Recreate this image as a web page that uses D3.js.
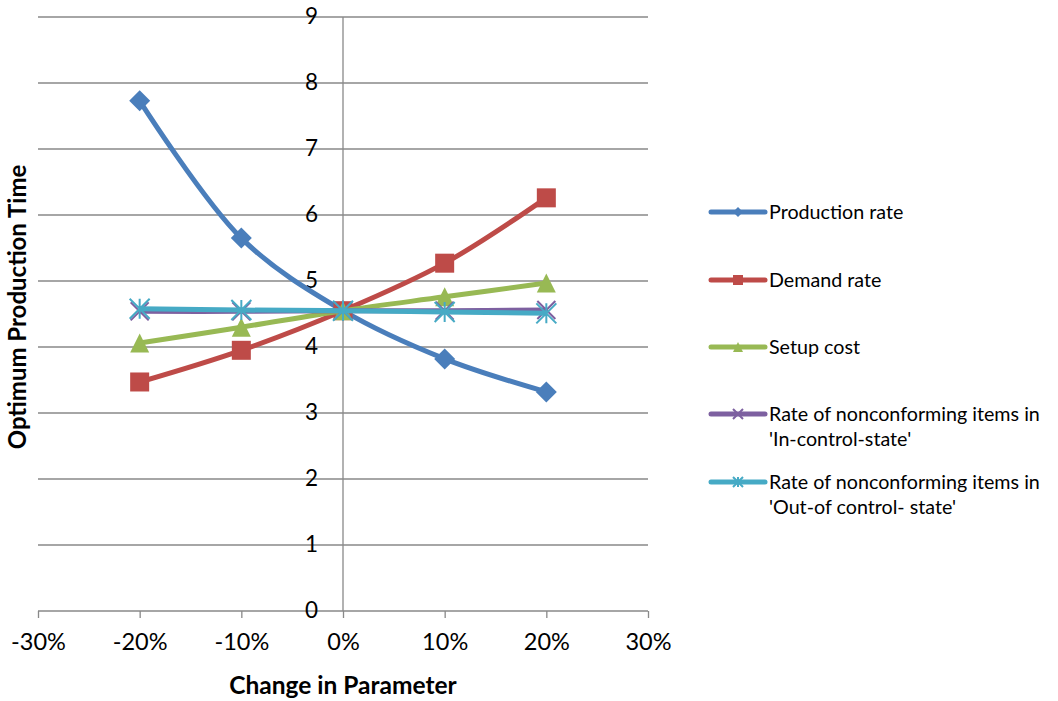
<!DOCTYPE html>
<html>
<head>
<meta charset="utf-8">
<script src="https://cdn.jsdelivr.net/npm/d3@7/dist/d3.min.js"></script>
<style>
  html, body { margin: 0; padding: 0; background: #fff; }
  svg { display: block; font-family: Lato, "Open Sans", "Liberation Sans", sans-serif; }
</style>
</head>
<body>
<svg id="chart" width="1058" height="701"></svg>
<script>
// Sensitivity of the optimum production time to a change in each parameter
const changes = [-0.2, -0.1, 0, 0.1, 0.2];
const xTicks = [-0.3, -0.2, -0.1, 0, 0.1, 0.2, 0.3];
const yTicks = [0, 1, 2, 3, 4, 5, 6, 7, 8, 9];

const productionRate = [7.73, 5.65, 4.55, 3.82, 3.32];
const demandRate     = [3.47, 3.95, 4.55, 5.27, 6.26];
const setupCost      = [4.06, 4.30, 4.55, 4.76, 4.97];
const inControl      = [4.54, 4.54, 4.55, 4.55, 4.56];
const outOfControl   = [4.58, 4.56, 4.55, 4.53, 4.51];

const seriesNames  = ["Production rate", "Demand rate", "Setup cost",
                      "Rate of nonconforming items in|'In-control-state'",
                      "Rate of nonconforming items in|'Out-of control- state'"];
const seriesColors = ["#4a7ebb", "#be4b48", "#98b954", "#7d60a0", "#46aac5"];
const seriesMarkers = ["diamond", "square", "triangle", "x", "star"];
const seriesValues = [productionRate, demandRate, setupCost, inControl, outOfControl];

(function () {
const svg = d3.select("#chart");
const pLeft = 38, pRight = 648, pTop = 17, pBottom = 611;

const x = d3.scaleLinear().domain([-0.3, 0.3]).range([pLeft, pRight]);
const y = d3.scaleLinear().domain([0, 9]).range([pBottom, pTop]);
const grey = "#898989";

// horizontal gridlines
svg.append("g").selectAll("line").data(yTicks.filter(d => d > 0)).join("line")
  .attr("x1", pLeft).attr("x2", pRight)
  .attr("y1", d => y(d)).attr("y2", d => y(d))
  .attr("stroke", grey).attr("stroke-width", 1.3);

// x axis along y = 0
const xAxis = d3.axisBottom(x).tickValues(xTicks).tickSize(7).tickPadding(15)
  .tickFormat(d3.format(".0%"));
const gx = svg.append("g").attr("transform", `translate(0,${pBottom})`).call(xAxis);
gx.select(".domain").attr("stroke", grey).attr("stroke-width", 1.3).attr("d", `M${pLeft},0H${pRight}`);
gx.selectAll(".tick line").attr("stroke", grey).attr("stroke-width", 1.3);
gx.selectAll(".tick text").attr("font-size", 23.5).attr("fill", "#000")
  .attr("font-family", "Lato, sans-serif").text(d => d3.format(".0%")(d).replace("−", "-"));

// y axis crossing at 0%
const yAxis = d3.axisLeft(y).tickValues(yTicks).tickSize(0).tickPadding(25);
const gy = svg.append("g").attr("transform", `translate(${x(0)},0)`).call(yAxis);
gy.select(".domain").attr("stroke", grey).attr("stroke-width", 1.3).attr("d", `M0,${pTop}V${pBottom}`);
gy.selectAll(".tick text").attr("font-size", 22.5).attr("fill", "#000")
  .attr("font-family", "Lato, sans-serif").attr("dy", "0.3em");

// axis titles
svg.append("text").attr("x", x(0)).attr("y", 694).attr("text-anchor", "middle")
  .attr("font-size", 24.5).attr("font-weight", "bold").text("Change in Parameter");
svg.append("text").attr("transform", `translate(26,307) rotate(-90)`)
  .attr("text-anchor", "middle").attr("font-size", 24).attr("font-weight", "bold")
  .text("Optimum Production Time");

// marker drawing
function drawMarker(g, type, cx, cy, color, s) {
  if (type === "diamond") {
    const r = s / 2;
    g.append("path").attr("d", `M${cx},${cy - r}L${cx + r},${cy}L${cx},${cy + r}L${cx - r},${cy}Z`)
      .attr("fill", color);
  } else if (type === "square") {
    g.append("rect").attr("x", cx - s / 2).attr("y", cy - s / 2)
      .attr("width", s).attr("height", s).attr("fill", color);
  } else if (type === "triangle") {
    const h = s;
    g.append("path")
      .attr("d", `M${cx},${cy - h / 2}L${cx + s / 2},${cy + h / 2}L${cx - s / 2},${cy + h / 2}Z`)
      .attr("fill", color);
  } else if (type === "x") {
    const r = s / 2;
    g.append("path").attr("d", `M${cx - r},${cy - r}L${cx + r},${cy + r}M${cx - r},${cy + r}L${cx + r},${cy - r}`)
      .attr("stroke", color).attr("stroke-width", 2);
  } else if (type === "star") {
    const r = s / 2;
    g.append("path").attr("d",
      `M${cx - r},${cy - r}L${cx + r},${cy + r}M${cx - r},${cy + r}L${cx + r},${cy - r}M${cx},${cy - r}L${cx},${cy + r}`)
      .attr("stroke", color).attr("stroke-width", 2);
  }
}

const line = d3.line().x((d, i) => x(changes[i])).y(d => y(d)).curve(d3.curveCatmullRom.alpha(0.5));
const plot = svg.append("g");
seriesValues.forEach((vals, k) => {
  const g = plot.append("g");
  g.append("path").datum(vals).attr("d", line).attr("fill", "none")
    .attr("stroke", seriesColors[k]).attr("stroke-width", 5).attr("stroke-linejoin", "round");
  vals.forEach((v, i) => drawMarker(g, seriesMarkers[k], x(changes[i]), y(v), seriesColors[k],
    [21, 19, 19, 18, 20][k]));
});

// legend
const legendY = [212, 280, 347, 414, 482];
seriesNames.forEach((name, k) => {
  const g = svg.append("g");
  const ly = legendY[k];
  g.append("line").attr("x1", 711).attr("x2", 765).attr("y1", ly).attr("y2", ly)
    .attr("stroke", seriesColors[k]).attr("stroke-width", 5).attr("stroke-linecap", "round");
  drawMarker(g, seriesMarkers[k], 738, ly, seriesColors[k], 10);
  const t = g.append("text").attr("x", 769).attr("y", ly + 7).attr("font-size", 19.7).attr("fill", "#000");
  name.split("|").forEach((part, j) => {
    t.append("tspan").attr("x", 769).attr("dy", j === 0 ? 0 : 25).text(part);
  });
});
})();
</script>
</body>
</html>
